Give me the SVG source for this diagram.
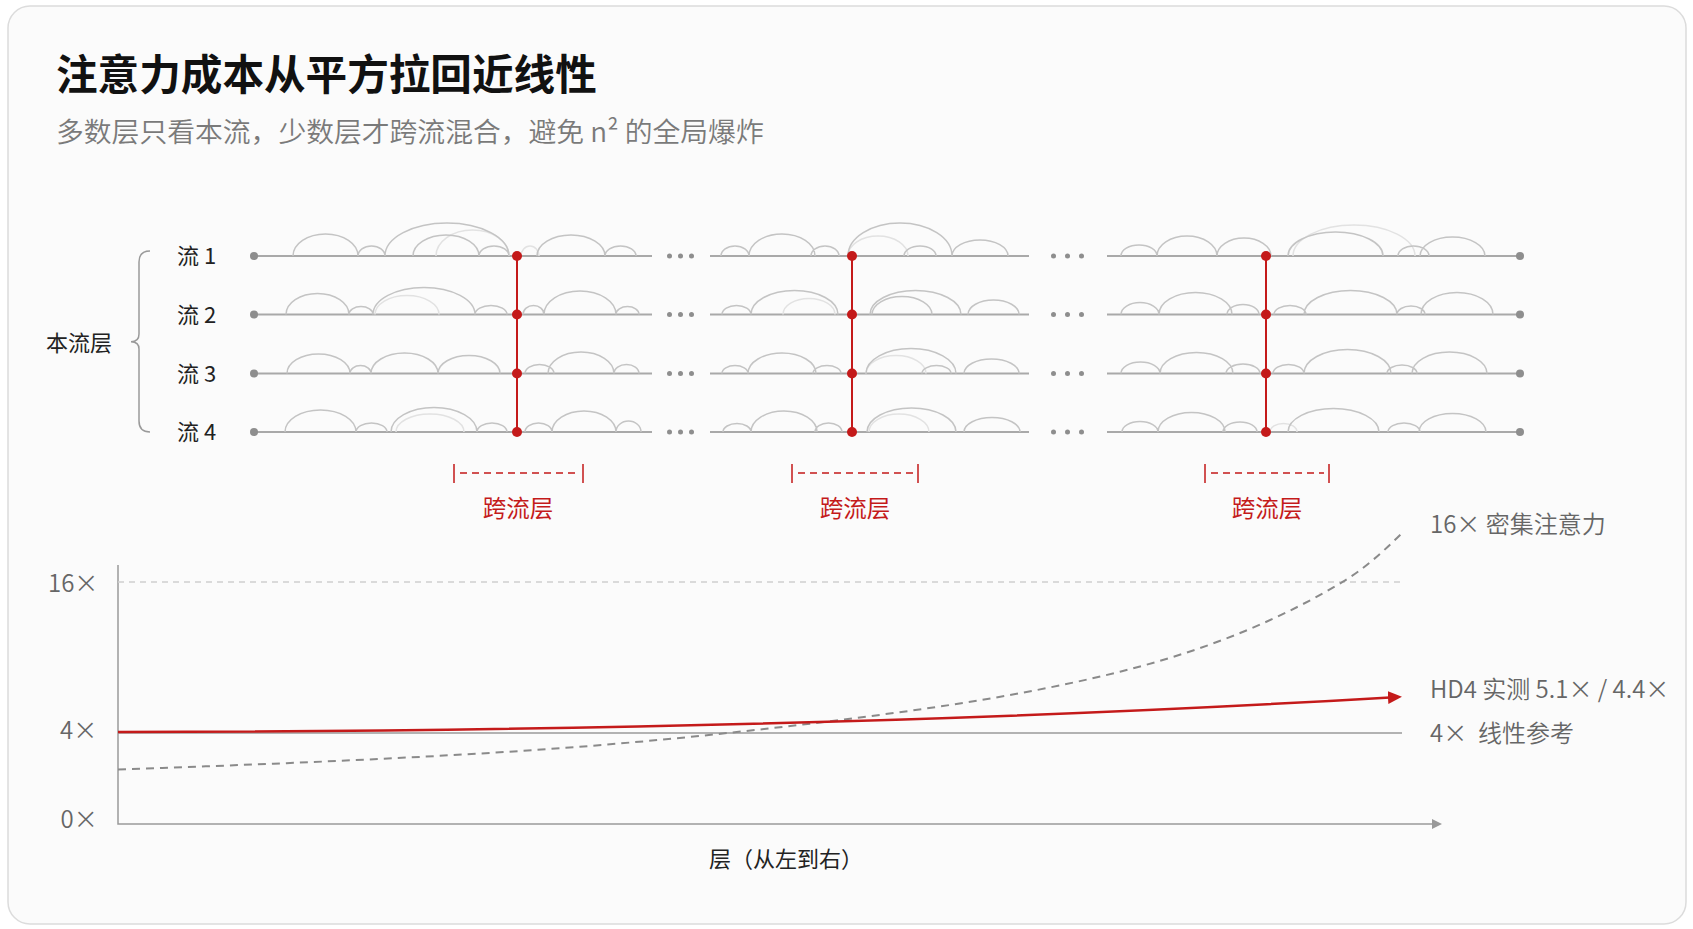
<svg xmlns="http://www.w3.org/2000/svg" width="1693" height="929" viewBox="0 0 1693 929">
<style>
text{font-family:"Noto Sans CJK SC","Noto Sans",sans-serif;}
.title{font-size:41.6px;font-weight:700;fill:#111;}
.sub{font-size:27.8px;fill:#7a7a7a;font-weight:350;}
.lbl{font-size:22px;fill:#222;}
.red{fill:#c41a1a;}
.cross{font-size:23.5px;font-weight:400;}
.ax{font-size:24px;fill:#666;font-weight:350;}
.stream{stroke:#a9a9a9;stroke-width:2;fill:none;}
.arc{stroke:#c4c4c4;stroke-width:1.5;fill:none;}
.arcf{stroke:#e2e2e2;stroke-width:1.5;fill:none;}
.gdot{fill:#8e8e8e;}
.rline{stroke:#c41a1a;stroke-width:2;fill:none;}
.rdot{fill:#c41a1a;}
.bracket{stroke:#c41a1a;stroke-width:1.5;fill:none;}
.brk{stroke:#c41a1a;stroke-width:1.5;fill:none;stroke-dasharray:7 5;}
</style>
<defs>
<marker id="ahRed" markerUnits="userSpaceOnUse" markerWidth="16" markerHeight="14" refX="2" refY="6.5" orient="auto">
<path d="M0,0 L14,6.5 L0,13 Z" fill="#c41a1a"/>
</marker>
<marker id="ahGray" markerUnits="userSpaceOnUse" markerWidth="12" markerHeight="12" refX="1" refY="5" orient="auto">
<path d="M0,0 L10,5 L0,10 Z" fill="#999"/>
</marker>
</defs>
<rect x="8" y="6" width="1678" height="918" rx="22" fill="#fbfbfb" stroke="#dcdcdc" stroke-width="1.5"/>

<g id="title"><text class="title" x="56" y="90">注意力成本从平方拉回近线性</text></g>
<g id="subtitle"><text class="sub" x="56" y="142">多数层只看本流，少数层才跨流混合，避免 n² 的全局爆炸</text></g>

<g id="stream-group-label">
<text class="lbl" x="46" y="351.4">本流层</text>
<path d="M150,251 Q139,251 139,262 L139,334 Q139,341.7 131,341.7 Q139,341.7 139,349 L139,421 Q139,432 150,432" fill="none" stroke="#9a9a9a" stroke-width="1.5"/>
</g>

<g id="stream1">
<text class="lbl" x="177" y="264.4">流 1</text>
<path class="stream" d="M254,256 H652 M710,256 H1029 M1107,256 H1520"/>
<path class="arcf" d="M436 256A36.5 26 0 0 1 509 256M521 256A9 10 0 0 1 539 256M848 256A30 20 0 0 1 908 256M1293 256A61 31 0 0 1 1415 256"/>
<path class="arc" d="M293 256A32.5 22 0 0 1 358 256M358 256A13.5 10 0 0 1 385 256M385 256A62 33 0 0 1 509 256M413 256A33 21 0 0 1 479 256M479 256A15 10 0 0 1 509 256M537 256A34 21 0 0 1 605 256M605 256A15.5 10 0 0 1 636 256M721 256A14 10 0 0 1 749 256M749 256A33 22 0 0 1 815 256M811 256A14 10 0 0 1 839 256M848 256A52 33 0 0 1 952 256M904 256A16 10 0 0 1 936 256M952 256A28 16 0 0 1 1008 256M1121 256A18 11 0 0 1 1157 256M1157 256A30 20 0 0 1 1217 256M1217 256A27 18 0 0 1 1271 256M1288 256A47.5 24 0 0 1 1383 256M1398 256A15.5 10 0 0 1 1429 256M1420 256A32.5 19 0 0 1 1485 256"/>
<circle class="gdot" cx="254" cy="256" r="4"/><circle class="gdot" cx="1520" cy="256" r="4"/>
<circle class="gdot" cx="669.5" cy="256" r="2.5"/><circle class="gdot" cx="680.5" cy="256" r="2.5"/><circle class="gdot" cx="691.5" cy="256" r="2.5"/>
<circle class="gdot" cx="1053.5" cy="256" r="2.5"/><circle class="gdot" cx="1067.5" cy="256" r="2.5"/><circle class="gdot" cx="1081.5" cy="256" r="2.5"/>
</g>

<g id="stream2">
<text class="lbl" x="177" y="323">流 2</text>
<path class="stream" d="M254,314.5 H652 M710,314.5 H1029 M1107,314.5 H1520"/>
<path class="arcf" d="M375 314.5A32 19 0 0 1 439 314.5M783 314.5A26 16 0 0 1 835 314.5"/>
<path class="arc" d="M286 314.5A31.5 21 0 0 1 349 314.5M349 314.5A12 8 0 0 1 373 314.5M373 314.5A51 27 0 0 1 475 314.5M475 314.5A16 9 0 0 1 507 314.5M523 314.5A10.5 9 0 0 1 544 314.5M544 314.5A36 23.5 0 0 1 616 314.5M616 314.5A11.5 8 0 0 1 639 314.5M722 314.5A14.5 9 0 0 1 751 314.5M751 314.5A43.5 24 0 0 1 838 314.5M870 314.5A45.5 24 0 0 1 961 314.5M872 314.5A30 18 0 0 1 932 314.5M968 314.5A25.5 14.5 0 0 1 1019 314.5M1121 314.5A19 12 0 0 1 1159 314.5M1159 314.5A36.5 22 0 0 1 1232 314.5M1227 314.5A16 10 0 0 1 1259 314.5M1274 314.5A16 9 0 0 1 1306 314.5M1304 314.5A46.5 24 0 0 1 1397 314.5M1397 314.5A14 8.5 0 0 1 1425 314.5M1421 314.5A36 22 0 0 1 1493 314.5"/>
<circle class="gdot" cx="254" cy="314.5" r="4"/><circle class="gdot" cx="1520" cy="314.5" r="4"/>
<circle class="gdot" cx="669.5" cy="314.5" r="2.5"/><circle class="gdot" cx="680.5" cy="314.5" r="2.5"/><circle class="gdot" cx="691.5" cy="314.5" r="2.5"/>
<circle class="gdot" cx="1053.5" cy="314.5" r="2.5"/><circle class="gdot" cx="1067.5" cy="314.5" r="2.5"/><circle class="gdot" cx="1081.5" cy="314.5" r="2.5"/>
</g>

<g id="stream3">
<text class="lbl" x="177" y="381.9">流 3</text>
<path class="stream" d="M254,373.5 H652 M710,373.5 H1029 M1107,373.5 H1520"/>
<path class="arcf" d="M866 373.5A30 18 0 0 1 926 373.5"/>
<path class="arc" d="M287 373.5A31.5 19.5 0 0 1 350 373.5M350 373.5A10.5 8 0 0 1 371 373.5M371 373.5A33.5 20.5 0 0 1 438 373.5M438 373.5A31 18 0 0 1 500 373.5M525 373.5A14.5 9 0 0 1 554 373.5M548 373.5A33 21.5 0 0 1 614 373.5M614 373.5A12.5 9 0 0 1 639 373.5M722 373.5A13 8 0 0 1 748 373.5M748 373.5A34 20.5 0 0 1 816 373.5M813 373.5A14 8 0 0 1 841 373.5M866 373.5A45 25 0 0 1 956 373.5M922 373.5A14.5 8 0 0 1 951 373.5M964 373.5A27.5 14.5 0 0 1 1019 373.5M1121 373.5A19.5 11.5 0 0 1 1160 373.5M1160 373.5A36.5 21 0 0 1 1233 373.5M1226 373.5A17 9.5 0 0 1 1260 373.5M1273 373.5A15.5 9 0 0 1 1304 373.5M1304 373.5A43.5 24 0 0 1 1391 373.5M1387 373.5A15 8.5 0 0 1 1417 373.5M1412 373.5A37.5 21.5 0 0 1 1487 373.5"/>
<circle class="gdot" cx="254" cy="373.5" r="4"/><circle class="gdot" cx="1520" cy="373.5" r="4"/>
<circle class="gdot" cx="669.5" cy="373.5" r="2.5"/><circle class="gdot" cx="680.5" cy="373.5" r="2.5"/><circle class="gdot" cx="691.5" cy="373.5" r="2.5"/>
<circle class="gdot" cx="1053.5" cy="373.5" r="2.5"/><circle class="gdot" cx="1067.5" cy="373.5" r="2.5"/><circle class="gdot" cx="1081.5" cy="373.5" r="2.5"/>
</g>

<g id="stream4">
<text class="lbl" x="177" y="440.4">流 4</text>
<path class="stream" d="M254,432 H652 M710,432 H1029 M1107,432 H1520"/>
<path class="arcf" d="M396 432A34 18 0 0 1 464 432M869 432A30 18 0 0 1 929 432M1270 432A13.5 8.5 0 0 1 1297 432"/>
<path class="arc" d="M285 432A35.5 22 0 0 1 356 432M356 432A15.5 9 0 0 1 387 432M391 432A43 24.5 0 0 1 477 432M477 432A15 9 0 0 1 507 432M525 432A13.5 9 0 0 1 552 432M552 432A32 21 0 0 1 616 432M616 432A12.5 11 0 0 1 641 432M723 432A14 8.5 0 0 1 751 432M751 432A33 21 0 0 1 817 432M815 432A13.5 9 0 0 1 842 432M867 432A44.5 24 0 0 1 956 432M964 432A28 14.5 0 0 1 1020 432M1122 432A18 10.5 0 0 1 1158 432M1158 432A33.5 19.5 0 0 1 1225 432M1223 432A17 10 0 0 1 1257 432M1288 432A45.5 23.5 0 0 1 1379 432M1388 432A16 9 0 0 1 1420 432M1419 432A33.5 18.5 0 0 1 1486 432"/>
<circle class="gdot" cx="254" cy="432" r="4"/><circle class="gdot" cx="1520" cy="432" r="4"/>
<circle class="gdot" cx="669.5" cy="432" r="2.5"/><circle class="gdot" cx="680.5" cy="432" r="2.5"/><circle class="gdot" cx="691.5" cy="432" r="2.5"/>
<circle class="gdot" cx="1053.5" cy="432" r="2.5"/><circle class="gdot" cx="1067.5" cy="432" r="2.5"/><circle class="gdot" cx="1081.5" cy="432" r="2.5"/>
</g>

<g id="connectors">
<path class="rline" d="M517,256 V432 M852,256 V432 M1266,256 V432"/>
</g>

<g id="cross1">
<circle class="rdot" cx="517" cy="256" r="5"/><circle class="rdot" cx="517" cy="314.5" r="5"/><circle class="rdot" cx="517" cy="373.5" r="5"/><circle class="rdot" cx="517" cy="432" r="5"/>
<path class="bracket" d="M454,464 V483 M583,464 V483"/><path class="brk" d="M460,473 H578"/>
<text class="cross red" x="518" y="517" text-anchor="middle">跨流层</text>
</g>
<g id="cross2">
<circle class="rdot" cx="852" cy="256" r="5"/><circle class="rdot" cx="852" cy="314.5" r="5"/><circle class="rdot" cx="852" cy="373.5" r="5"/><circle class="rdot" cx="852" cy="432" r="5"/>
<path class="bracket" d="M792,464 V483 M918,464 V483"/><path class="brk" d="M798,473 H913"/>
<text class="cross red" x="855" y="517" text-anchor="middle">跨流层</text>
</g>
<g id="cross3">
<circle class="rdot" cx="1266" cy="256" r="5"/><circle class="rdot" cx="1266" cy="314.5" r="5"/><circle class="rdot" cx="1266" cy="373.5" r="5"/><circle class="rdot" cx="1266" cy="432" r="5"/>
<path class="bracket" d="M1205,464 V483 M1329,464 V483"/><path class="brk" d="M1211,473 H1324"/>
<text class="cross red" x="1267" y="517" text-anchor="middle">跨流层</text>
</g>

<g id="chart">
<path d="M118,565 V824 H1433" fill="none" stroke="#9a9a9a" stroke-width="1.5" marker-end="url(#ahGray)"/>
<path d="M118,582 H1402" fill="none" stroke="#cfcfcf" stroke-width="1.5" stroke-dasharray="6 5"/>
<path d="M118,733 H1402" fill="none" stroke="#9a9a9a" stroke-width="1.5"/>
<path d="M118,769.5 C252,764.8 386,759.7 520,751 C626.7,744.1 733.3,733.3 840,720 C933.3,708.3 1026.7,695 1120,671.7 C1194.3,653.1 1268.7,626.3 1343,581.7 C1362.6,569.9 1382.1,552.9 1401.7,533.3" fill="none" stroke="#8a8a8a" stroke-width="2" stroke-dasharray="8 6"/>
<path d="M118,732 Q835,730.6 1390,697.4" fill="none" stroke="#c41a1a" stroke-width="2.5" marker-end="url(#ahRed)"/>
<text class="ax" x="48" y="591.8">16×</text>
<text class="ax" x="60" y="739">4×</text>
<text class="ax" x="60.5" y="828">0×</text>
<text class="lbl" x="709" y="867.4">层（从左到右）</text>
<text class="ax" x="1430" y="533">16× 密集注意力</text>
<text class="ax red" x="1430" y="698.4">HD4 实测 5.1× / 4.4×</text>
<text class="ax" x="1430" y="742.4" xml:space="preserve">4×  线性参考</text>
</g>
</svg>
